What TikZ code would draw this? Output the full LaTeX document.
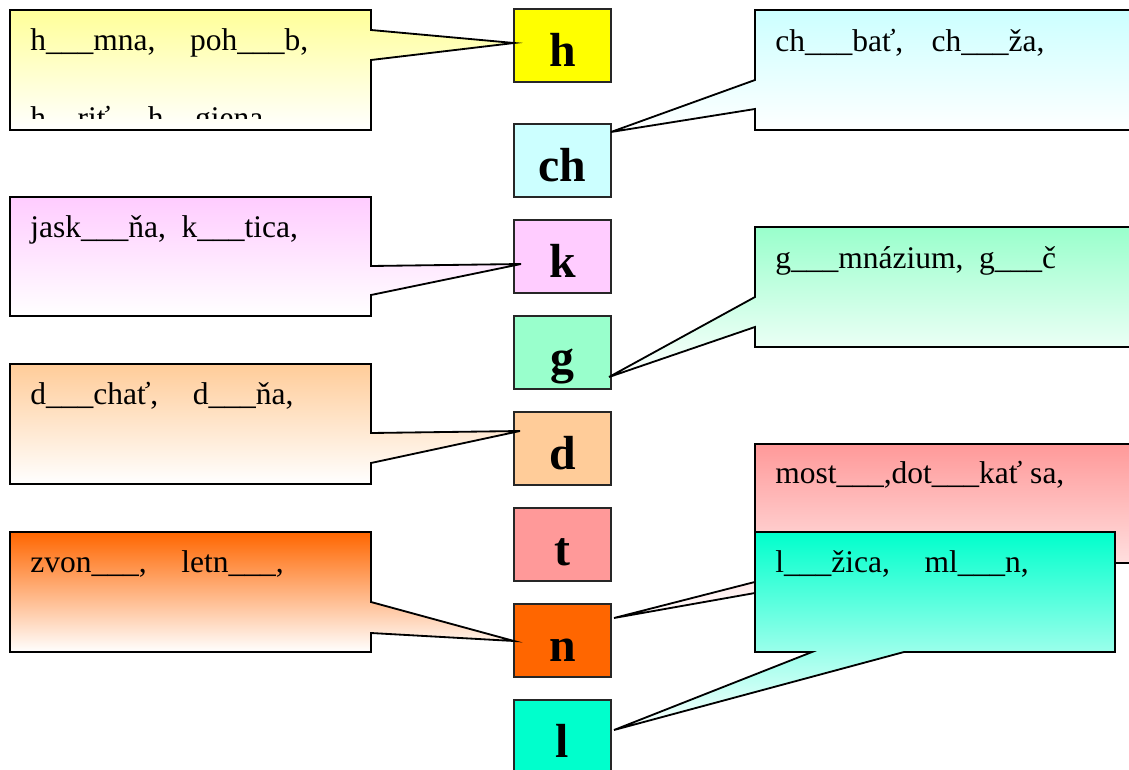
\documentclass[tikz,border=0pt]{standalone}
\usepackage{fontspec}
\setmainfont{Liberation Serif}
\definecolor{hyellow}{RGB}{255, 255, 0}
\definecolor{hpale}{RGB}{255, 255, 153}
\definecolor{chcyan}{RGB}{204, 255, 255}
\definecolor{kpink}{RGB}{255, 204, 255}
\definecolor{ggreen}{RGB}{153, 255, 204}
\definecolor{dpeach}{RGB}{255, 204, 153}
\definecolor{tsalmon}{RGB}{255, 153, 153}
\definecolor{norange}{RGB}{255, 102, 0}
\definecolor{lteal}{RGB}{0, 255, 204}

\begin{document}
\begin{tikzpicture}[x=0.025cm, y=-0.025cm,
  letterbox/.style={draw=black!85, line width=1.2pt, minimum width=2.425cm, inner sep=0pt,
    text height=1.425cm, text depth=0.4cm, font=\fontsize{34}{40}\selectfont\bfseries},
  bubble/.style={draw=black, line width=1.3pt, top color=#1, middle color=#1!30!white,
    bottom color=white},
  word/.style={anchor=base west, inner sep=0pt, font=\fontsize{22.4}{27}\selectfont}]
  \clip (0, 0) rectangle (1129, 769);

  % Letter column
  \node[letterbox, fill=hyellow] (bh) at (562.5, 45.5) {h};
  \node[letterbox, fill=chcyan] (bch) at (562.5, 160.5) {ch};
  \node[letterbox, fill=kpink] (bk) at (562.5, 256.5) {k};
  \node[letterbox, fill=ggreen] (bg) at (562.5, 352.5) {g};
  \node[letterbox, fill=dpeach] (bd) at (562.5, 448.5) {d};
  \node[letterbox, fill=tsalmon] (bt) at (562.5, 544.5) {t};
  \node[letterbox, fill=norange] (bn) at (562.5, 640.5) {n};
  \node[letterbox, fill=lteal] (bl) at (562.5, 736.5) {l};

  % Left callouts
  \path[bubble=hpale] (10, 10) -- (371, 10) -- (371, 30) -- (514, 43)
    -- (371, 60) -- (371, 130) -- (10, 130) -- cycle;
  \node[word] (wh) at (30, 50) {h\_\_\_mna,\hspace{1.1em}poh\_\_\_b,};
  \begin{scope}
    \clip (10, 10) rectangle (371, 118);
    \node[word] (wh2) at (30, 128) {h\_\_riť,\hspace{0.95em}h\_\_giena};
  \end{scope}

  \path[bubble=kpink] (10, 197) -- (371, 197) -- (371, 266) -- (521, 264)
    -- (371, 295) -- (371, 316) -- (10, 316) -- cycle;
  \node[word] (wk) at (30, 237) {jask\_\_\_ňa,~~k\_\_\_tica,};

  \path[bubble=dpeach] (10, 364) -- (371, 364) -- (371, 433) -- (520, 431)
    -- (371, 463) -- (371, 484) -- (10, 484) -- cycle;
  \node[word] (wd) at (30, 404) {d\_\_\_chať,\hspace{1.1em}d\_\_\_ňa,};

  \path[bubble=norange] (10, 532) -- (371, 532) -- (371, 602) -- (514, 641)
    -- (371, 633) -- (371, 652) -- (10, 652) -- cycle;
  \node[word] (wn) at (30, 572) {zvon\_\_\_,\hspace{1.1em}letn\_\_\_,};

  % Right callouts
  \path[bubble=chcyan] (755, 10) -- (1140, 10) -- (1140, 130) -- (755, 130)
    -- (755, 109) -- (611, 132) -- (755, 80) -- cycle;
  \node[word] (wch) at (775, 51) {ch\_\_\_bať,\hspace{0.9em}ch\_\_\_ža,};

  \path[bubble=ggreen] (755, 227) -- (1140, 227) -- (1140, 347) -- (755, 347)
    -- (755, 327) -- (609, 377) -- (755, 297) -- cycle;
  \node[word] (wg) at (775, 268) {g\_\_\_mnázium,~~g\_\_\_č};

  \path[bubble=tsalmon] (755, 444) -- (1140, 444) -- (1140, 563) -- (924, 563)
    -- (614, 618) -- (829, 563) -- (755, 563) -- cycle;
  \node[word] (wt) at (775, 483) {most\_\_\_,dot\_\_\_kať sa,};

  \path[bubble=lteal] (755, 532) -- (1115, 532) -- (1115, 652) -- (904, 652)
    -- (614, 730) -- (812, 652) -- (755, 652) -- cycle;
  \node[word] (wl) at (775, 572) {l\_\_\_žica,\hspace{1.1em}ml\_\_\_n,};
\end{tikzpicture}
\end{document}
